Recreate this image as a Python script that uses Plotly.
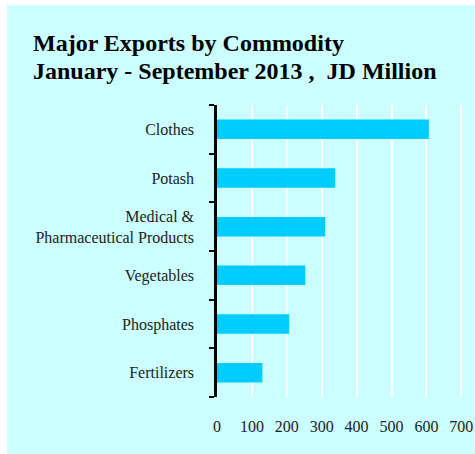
import plotly.graph_objects as go

categories = ["Clothes", "Potash", "Medical &<br>Pharmaceutical Products",
              "Vegetables", "Phosphates", "Fertilizers"]
values = [607, 339, 310, 253, 207, 130]
x_ticks = [0, 100, 200, 300, 400, 500, 600, 700]
title_lines = ["Major Exports by Commodity", "January - September 2013 ,  JD Million"]

W, H = 475, 454
ml, mr, mt, mb = 217, 0, 105, 57
pw, ph = W - ml - mr, H - mt - mb


def py(px_from_top):
    return (H - mb - px_from_top) / ph


def pxx(px_from_left):
    return (px_from_left - ml) / pw


fig = go.Figure(go.Bar(
    x=values, y=categories, orientation="h",
    marker=dict(color="#00CCFF", line=dict(width=0)),
    width=0.4,
))

fig.add_shape(type="rect", xref="paper", yref="paper",
              x0=pxx(7), x1=1.05, y0=py(H + 5), y1=py(5),
              fillcolor="#CCFFFF", line=dict(width=0), layer="below")

for i, line in enumerate(title_lines):
    fig.add_annotation(text="<b>" + line + "</b>", xref="paper", yref="paper",
                       x=pxx(31), y=py(43 + 27.5 * i), xanchor="left", yanchor="middle",
                       showarrow=False,
                       font=dict(family="Liberation Serif", size=24, color="#000000"))

fig.update_layout(
    width=W, height=H,
    margin=dict(l=ml, r=mr, t=mt, b=mb, pad=0),
    paper_bgcolor="white",
    plot_bgcolor="rgba(0,0,0,0)",
    showlegend=False,
    font=dict(family="Liberation Serif", size=16, color="#222222"),
    xaxis=dict(
        range=[0, pw / 34.9 * 100],
        tickvals=x_ticks, ticktext=[str(v) for v in x_ticks],
        showgrid=True, gridcolor="white", gridwidth=2,
        zeroline=False, showline=False,
        ticks="", ticklabelstandoff=18, ticklabeloverflow="allow",
        tickfont=dict(size=16, color="#222222"),
        fixedrange=True,
    ),
    yaxis=dict(
        categoryorder="array", categoryarray=categories[::-1],
        showline=True, linecolor="black", linewidth=2.5,
        ticks="outside", tickson="boundaries", ticklen=5, tickwidth=2, tickcolor="black",
        showgrid=False, zeroline=False,
        ticklabelstandoff=17,
        tickfont=dict(size=16, color="#222222"),
        fixedrange=True,
    ),
)

fig.write_html("out.html", config={"displayModeBar": False},
               post_script="document.body.style.margin='0';document.body.style.overflow='hidden';")
